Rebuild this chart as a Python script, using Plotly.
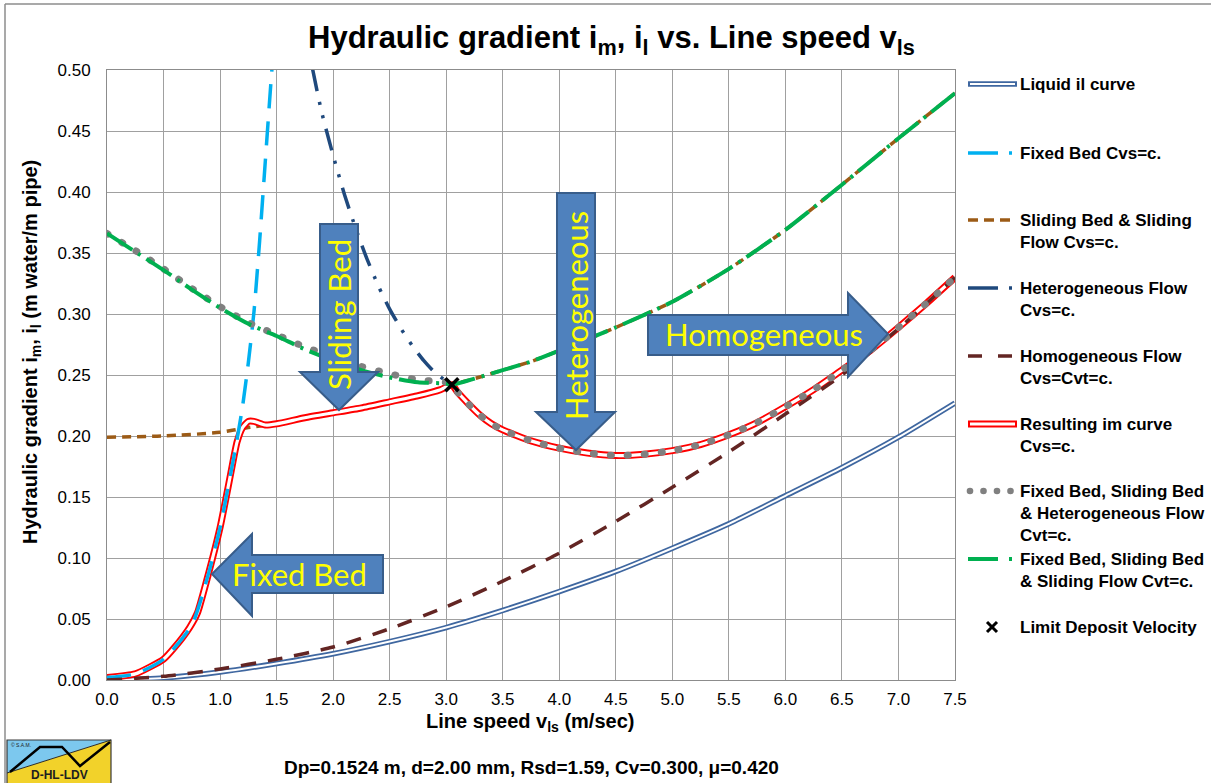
import plotly.graph_objects as go

# ---------------- data ----------------
v_liq = [0, 0.5, 1.0, 1.5, 2.0, 2.5, 3.0, 3.5, 4.0, 4.5, 5.0, 5.5, 6.0, 6.5, 7.0, 7.5]
i_liq = [0.0, 0.0017, 0.0065, 0.0135, 0.0215, 0.0315, 0.043, 0.057, 0.0725, 0.089,
         0.108, 0.128, 0.151, 0.174, 0.199, 0.227]

v_fb = [0, 0.25, 0.5, 0.75, 0.9, 1.0, 1.1, 1.15, 1.2, 1.25, 1.3, 1.35, 1.4, 1.45, 1.5]
i_fb = [0.002, 0.005, 0.017, 0.045, 0.088, 0.125, 0.172, 0.197, 0.225, 0.26, 0.302,
        0.36, 0.425, 0.49, 0.55]

v_sb = [0, 0.5, 1.0, 1.25, 1.5, 2.0, 2.5, 3.0, 3.05, 3.25, 3.5, 3.75, 4.0, 4.5, 5.0,
        5.5, 6.0, 6.5, 7.0, 7.5]
i_sb = [0.199, 0.200, 0.203, 0.207, 0.210, 0.219, 0.228, 0.240, 0.242, 0.247, 0.254,
        0.261, 0.270, 0.289, 0.310, 0.337, 0.369, 0.406, 0.444, 0.481]

v_het = [1.75, 1.8, 1.9, 2.0, 2.1, 2.2, 2.3, 2.4, 2.5, 2.6, 2.7, 2.8, 2.9, 3.0, 3.05]
i_het = [0.55, 0.51, 0.465, 0.43, 0.398, 0.37, 0.345, 0.323, 0.304, 0.288, 0.274,
         0.262, 0.252, 0.245, 0.242]

v_hom = [0, 0.5, 1.0, 1.5, 2.0, 2.5, 3.0, 3.5, 4.0, 4.5, 5.0, 5.5, 6.0, 6.5, 7.0, 7.5]
i_hom = [0.0, 0.003, 0.009, 0.017, 0.027, 0.042, 0.060, 0.081, 0.104, 0.130, 0.158,
         0.187, 0.218, 0.250, 0.288, 0.330]

v_res = [0, 0.25, 0.5, 0.6, 0.73, 0.8, 0.9, 1.0, 1.05, 1.1, 1.15, 1.2, 1.25, 1.3, 1.4,
         1.5, 1.75, 2.0, 2.25, 2.5, 2.75, 2.95, 3.05, 3.1, 3.2, 3.3, 3.4, 3.5, 3.75,
         4.0, 4.25, 4.5, 4.75, 5.0, 5.25, 5.5, 5.75, 6.0, 6.25, 6.5, 6.75, 7.0, 7.25, 7.5]
i_res = [0.002, 0.005, 0.017, 0.027, 0.043, 0.055, 0.088, 0.125, 0.148, 0.172, 0.195,
         0.207, 0.212, 0.212, 0.209, 0.210, 0.215, 0.219, 0.223, 0.228, 0.233, 0.238,
         0.242, 0.236, 0.226, 0.217, 0.210, 0.205, 0.196, 0.190, 0.186, 0.184, 0.185,
         0.188, 0.193, 0.201, 0.211, 0.224, 0.238, 0.254, 0.270, 0.289, 0.309, 0.330]

v_fsh = [0, 0.25, 0.5, 0.75, 1.0, 1.25, 1.5, 1.75, 2.0, 2.25, 2.5, 2.75, 3.0, 3.05,
         3.1, 3.2, 3.3, 3.4, 3.5, 3.75, 4.0, 4.25, 4.5, 4.75, 5.0, 5.25, 5.5, 5.75,
         6.0, 6.25, 6.5, 6.75, 7.0, 7.25, 7.5]
i_fsh = [0.366, 0.352, 0.337, 0.321, 0.306, 0.293, 0.283, 0.273, 0.265, 0.257, 0.251,
         0.246, 0.244, 0.242, 0.236, 0.226, 0.217, 0.210, 0.205, 0.196, 0.190, 0.186,
         0.184, 0.185, 0.188, 0.193, 0.201, 0.211, 0.224, 0.238, 0.254, 0.270, 0.289,
         0.309, 0.330]

v_fss = [0, 0.25, 0.5, 0.75, 1.0, 1.25, 1.5, 1.75, 2.0, 2.25, 2.5, 2.75, 3.0, 3.05,
         3.25, 3.5, 3.75, 4.0, 4.5, 5.0, 5.5, 6.0, 6.5, 7.0, 7.5]
i_fss = [0.366, 0.351, 0.336, 0.320, 0.305, 0.292, 0.282, 0.271, 0.262, 0.254, 0.248,
         0.244, 0.243, 0.242, 0.247, 0.254, 0.261, 0.270, 0.289, 0.310, 0.337, 0.369,
         0.406, 0.444, 0.481]

v_ldv = [3.05]
i_ldv = [0.242]

x_ticks = [i * 0.5 for i in range(16)]
y_ticks = [i * 0.05 for i in range(11)]

# ---------------- layout helpers ----------------
W, H = 1211, 783
PL, PR, PT, PB = 107, 955, 70, 680


def px(x):
    return (x - PL) / (PR - PL)


def py(y):
    return (PB - y) / (PB - PT)


def path(pts, close=True):
    s = "M " + " L ".join(f"{px(a):.5f},{py(b):.5f}" for a, b in pts)
    return s + (" Z" if close else "")


ARIAL = "Liberation Sans, Arial, sans-serif"
CAL = "Lato, Open Sans, sans-serif"

fig = go.Figure()


def add(x, y, color, width, dash=None, smooth=0.6):
    fig.add_trace(go.Scatter(x=x, y=y, mode="lines", showlegend=False,
                             line=dict(color=color, width=width, dash=dash,
                                       shape="spline", smoothing=smooth),
                             hoverinfo="skip"))


# Liquid curve (double line)
add(v_liq, i_liq, "#3F67A0", 5.5)
add(v_liq, i_liq, "white", 2)
# Sliding bed & sliding flow
add(v_sb, i_sb, "#9C5B16", 3.5, dash="9px,6px")
# Resulting im curve (double line)
add(v_res, i_res, "#FF0000", 7, smooth=0.5)
add(v_res, i_res, "white", 3.2, smooth=0.5)
# Fixed bed
add(v_fb, i_fb, "#00B0F0", 3.5, dash="24px,13px")
# Heterogeneous
add(v_het, i_het, "#1F497D", 3.5, dash="22px,11px,3px,11px,3px,11px")
# Homogeneous
add(v_hom, i_hom, "#632523", 3.5, dash="15px,12px")
# Fixed Bed, Sliding Bed & Heterogeneous Cvt=c (gray dots)
add(v_fsh, i_fsh, "#808080", 7, dash="1px,16px")
GRAY_IDX = len(fig.data) - 1
# Fixed Bed, Sliding Bed & Sliding Flow Cvt=c (green) with brown showing in its gaps
add(v_fss, i_fss, "#00B050", 4, dash="30px,7px,3px,7px")
# LDV marker
fig.add_trace(go.Scatter(x=v_ldv, y=i_ldv, mode="markers", showlegend=False,
                         marker=dict(symbol="x-thin", size=13,
                                     line=dict(color="black", width=3.5)),
                         hoverinfo="skip"))

shapes = []
ann = []

# ---------------- arrows ----------------
AF, AL = "#4F81BD", "#385D8A"
arrows = [
    [(320, 224), (358, 224), (358, 372), (378, 372), (339, 410), (300, 372), (320, 372)],
    [(557, 193), (595, 193), (595, 412), (615, 412), (576, 450), (536, 412), (557, 412)],
    [(648, 315), (848, 315), (848, 293), (888, 334), (848, 377), (848, 355), (648, 355)],
    [(383, 555), (383, 593), (252, 593), (252, 616), (212, 574), (252, 534), (252, 555)],
]
for a in arrows:
    shapes.append(dict(type="path", xref="paper", yref="paper", path=path(a),
                       fillcolor=AF, line=dict(color=AL, width=2), layer="above"))

arrow_txt = [("Sliding Bed", 339, 315, -90), ("Heterogeneous", 576, 316, -90),
             ("Homogeneous", 764, 334, 0), ("Fixed Bed", 299, 574, 0)]
for t, x, y, ang in arrow_txt:
    ann.append(dict(text=t, x=px(x), y=py(y), xref="paper", yref="paper",
                    showarrow=False, textangle=ang, xanchor="center", yanchor="middle",
                    font=dict(family=CAL, size=31, color="#FFFF00")))

# ---------------- custom legend ----------------
LX0, LX1, TX = 968, 1016, 1018
leg = [
    ("Liquid il curve", 84),
    ("Fixed Bed Cvs=c.", 153),
    ("Sliding Bed & Sliding<br>Flow Cvs=c.", 220),
    ("Heterogeneous Flow<br>Cvs=c.", 288),
    ("Homogeneous Flow<br>Cvs=Cvt=c.", 356),
    ("Resulting im curve<br>Cvs=c.", 424),
    ("Fixed Bed, Sliding Bed<br>& Heterogeneous Flow<br>Cvt=c.", 491),
    ("Fixed Bed, Sliding Bed<br>& Sliding Flow Cvt=c.", 559),
    ("Limit Deposit Velocity", 627),
]
for t, y in leg:
    ann.append(dict(text=f"<b>{t}</b>", x=px(TX), y=py(y - 11), xref="paper", yref="paper",
                    showarrow=False, xanchor="left", yanchor="top", align="left",
                    font=dict(family=ARIAL, size=17, color="black")))


def lline(y, color, width, dash=None, x0=LX0, x1=LX1):
    shapes.append(dict(type="line", xref="paper", yref="paper", x0=px(x0), x1=px(x1),
                       y0=py(y), y1=py(y), line=dict(color=color, width=width, dash=dash)))


ys = [y for _, y in leg]
lline(ys[0], "#3F67A0", 5.5, x0=968, x1=1017)
lline(ys[0], "white", 2, x0=970, x1=1015)
lline(ys[1], "#00B0F0", 3.5, "30px,11px,3px,20px")
lline(ys[2], "#9C5B16", 3.5, "10px,6px")
lline(ys[3], "#1F497D", 3.5, "30px,11px,3px,20px")
lline(ys[4], "#632523", 3.5, "14px,16px")
lline(ys[5], "#FF0000", 7, x0=968, x1=1017)
lline(ys[5], "white", 3, x0=970, x1=1015)
for k in range(4):
    cx = 970 + k * 13.5
    shapes.append(dict(type="circle", xref="paper", yref="paper",
                       x0=px(cx - 3.3), x1=px(cx + 3.3), y0=py(ys[6] - 3.3), y1=py(ys[6] + 3.3),
                       fillcolor="#808080", line=dict(width=0)))
lline(ys[7], "#00B050", 4, "30px,11px,3px,20px")
# LDV legend cross
cx, cy, r = 992, ys[8], 5
shapes.append(dict(type="line", xref="paper", yref="paper", x0=px(cx - r), x1=px(cx + r),
                   y0=py(cy - r), y1=py(cy + r), line=dict(color="black", width=3)))
shapes.append(dict(type="line", xref="paper", yref="paper", x0=px(cx - r), x1=px(cx + r),
                   y0=py(cy + r), y1=py(cy - r), line=dict(color="black", width=3)))

# ---------------- titles ----------------
ann.append(dict(text="<b>Hydraulic gradient i<sub>m</sub>, i<sub>l</sub> vs. Line speed v<sub>ls</sub></b>",
                x=px(611), y=py(40), xref="paper", yref="paper", showarrow=False,
                xanchor="center", yanchor="middle",
                font=dict(family=ARIAL, size=31, color="black")))
ann.append(dict(text="<b>Line speed v<sub>ls</sub> (m/sec)</b>", x=px(530), y=py(722),
                xref="paper", yref="paper", showarrow=False, xanchor="center", yanchor="middle",
                font=dict(family=ARIAL, size=20, color="black")))
ann.append(dict(text="<b>Hydraulic gradient i<sub>m</sub>, i<sub>l</sub> (m water/m pipe)</b>",
                x=px(31), y=py(352), xref="paper", yref="paper", showarrow=False,
                textangle=-90, xanchor="center", yanchor="middle",
                font=dict(family=ARIAL, size=20, color="black")))
ann.append(dict(text="<b>Dp=0.1524 m, d=2.00 mm, Rsd=1.59, Cv=0.300, μ=0.420</b>",
                x=px(531), y=py(767), xref="paper", yref="paper", showarrow=False,
                xanchor="center", yanchor="middle",
                font=dict(family=ARIAL, size=19, color="black")))

# ---------------- outer border ----------------
shapes.append(dict(type="line", xref="paper", yref="paper", x0=px(5), x1=px(1215),
                   y0=py(4), y1=py(4), line=dict(color="#8C8C8C", width=1.5)))
shapes.append(dict(type="line", xref="paper", yref="paper", x0=px(5), x1=px(5),
                   y0=py(4), y1=py(790), line=dict(color="#8C8C8C", width=1.5)))

# ---------------- logo ----------------
shapes.append(dict(type="path", xref="paper", yref="paper",
                   path=path([(7, 740), (111, 740), (7, 773)]), fillcolor="#7CC8EE",
                   line=dict(width=0)))
shapes.append(dict(type="path", xref="paper", yref="paper",
                   path=path([(7, 773), (111, 740), (111, 790), (7, 790)]), fillcolor="#F2D22A",
                   line=dict(width=0)))
shapes.append(dict(type="path", xref="paper", yref="paper",
                   path=path([(7, 740), (111, 740), (111, 790), (7, 790)]),
                   fillcolor="rgba(0,0,0,0)", line=dict(color="#3A3A3A", width=1.2)))
shapes.append(dict(type="line", xref="paper", yref="paper", x0=px(7), y0=py(773),
                   x1=px(111), y1=py(740), line=dict(color="#2A2A2A", width=1)))
shapes.append(dict(type="path", xref="paper", yref="paper",
                   path=path([(10, 772), (40, 747), (62, 747), (80, 766), (110, 742)], close=False),
                   line=dict(color="black", width=2.5)))
ann.append(dict(text="<b>D-HL-LDV</b>", x=px(59), y=py(775), xref="paper", yref="paper",
                showarrow=False, xanchor="center", yanchor="middle",
                font=dict(family=ARIAL, size=12, color="#202020")))
ann.append(dict(text="© S.A.M.", x=px(9), y=py(745), xref="paper", yref="paper",
                showarrow=False, xanchor="left", yanchor="middle",
                font=dict(family=ARIAL, size=5, color="#202020")))

axis_common = dict(showgrid=True, gridcolor="#A0A0A0", gridwidth=1, showline=True,
                   linecolor="#8C8C8C", linewidth=1, mirror=True, zeroline=False,
                   ticks="", tickfont=dict(family=ARIAL, size=17, color="black"))
fig.update_layout(
    width=W, height=H, autosize=False,
    margin=dict(l=PL, r=W - PR, t=PT, b=H - PB, pad=0),
    paper_bgcolor="white", plot_bgcolor="white",
    xaxis=dict(range=[0, 7.5], tickvals=x_ticks, ticktext=[f"{v:.1f}" for v in x_ticks],
               ticklabelstandoff=4, **axis_common),
    yaxis=dict(range=[0, 0.5], tickvals=y_ticks, ticktext=[f"{v:.2f}" for v in y_ticks],
               ticklabelstandoff=12, **axis_common),
    shapes=shapes, annotations=ann, showlegend=False,
)

post = ("document.body.style.margin='0';document.body.style.padding='0';"
        "var gd=document.getElementById('{plot_id}');"
        "var tr=gd.querySelectorAll('.scatterlayer .trace');"
        "if(tr.length>%d){tr[%d].querySelectorAll('path.js-line').forEach(function(p){"
        "p.style.strokeLinecap='round';});}" % (GRAY_IDX, GRAY_IDX))
fig.write_html("out.html", post_script=post, config={"displayModeBar": False})
